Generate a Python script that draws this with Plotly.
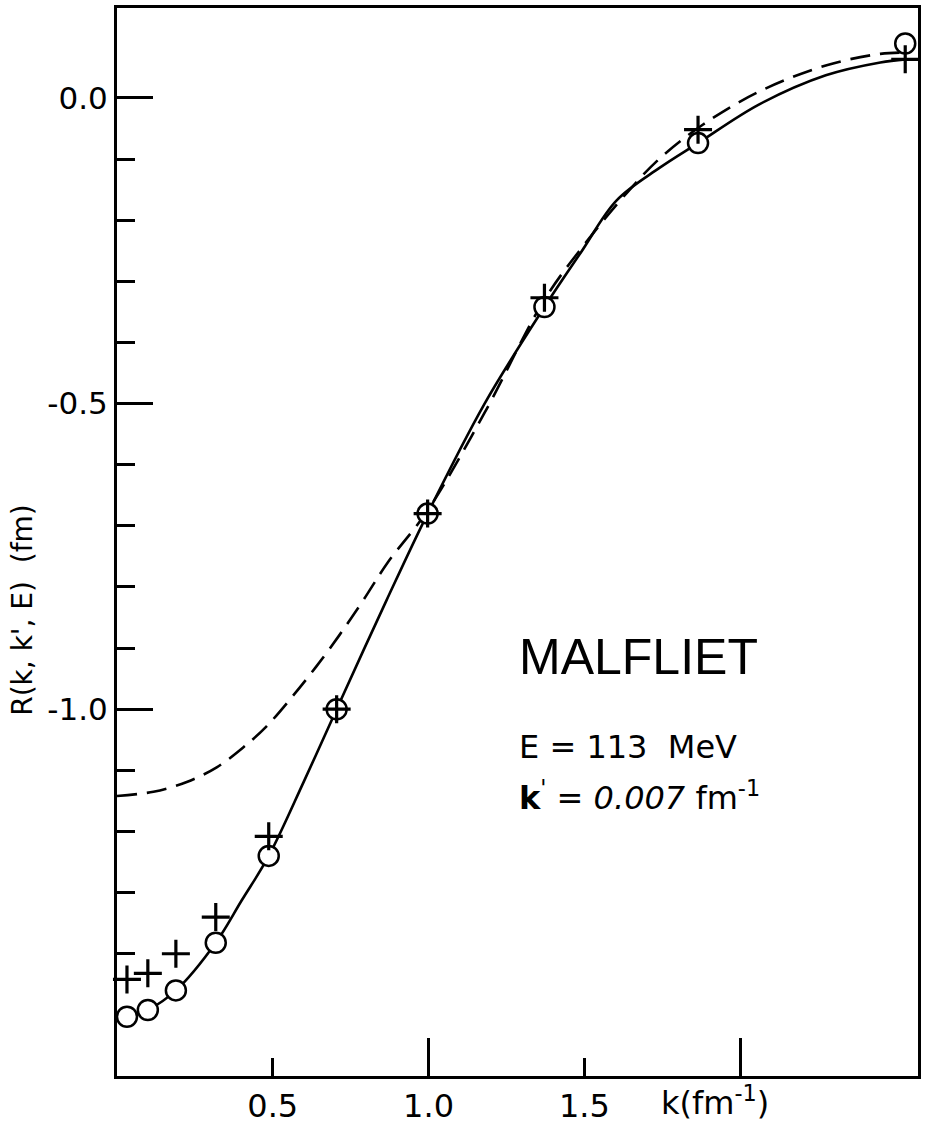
import plotly.graph_objects as go

# Sample momenta (fm^-1) and the two sets of computed R(k, k', E) values
k_pts = [0.032, 0.099, 0.189, 0.317, 0.487, 0.705, 0.997, 1.372, 1.865, 2.53]
r_circle = [-1.503, -1.492, -1.460, -1.382, -1.240, -1.000, -0.680, -0.342, -0.074, 0.089]
r_plus = [-1.442, -1.432, -1.400, -1.340, -1.208, -1.000, -0.680, -0.327, -0.052, 0.063]

# Solid curve
k_solid = [0.032, 0.099, 0.189, 0.317, 0.40, 0.487, 0.60, 0.705, 0.865, 0.997,
           1.18, 1.372, 1.49, 1.603, 1.74, 1.865, 2.06, 2.275, 2.45, 2.53]
r_solid = [-1.503, -1.492, -1.460, -1.382, -1.313, -1.240, -1.118, -1.000, -0.822, -0.680,
           -0.500, -0.342, -0.252, -0.168, -0.115, -0.074, -0.011, 0.037, 0.058, 0.063]

# Dashed curve
k_dash = [0.0, 0.117, 0.224, 0.32, 0.404, 0.48, 0.565, 0.64, 0.715, 0.79, 0.869, 0.997,
          1.18, 1.372, 1.50, 1.62, 1.74, 1.88, 2.06, 2.275, 2.45, 2.53]
r_dash = [-1.142, -1.135, -1.119, -1.095, -1.063, -1.028, -0.978, -0.930, -0.878, -0.822, -0.760,
          -0.675, -0.515, -0.330, -0.240, -0.165, -0.100, -0.044, 0.010, 0.053, 0.072, 0.074]

# Axis ticks
y_major = [0.0, -0.5, -1.0]
y_major_text = ["0.0", "-0.5", "-1.0"]
y_minor = [-0.1, -0.2, -0.3, -0.4, -0.6, -0.7, -0.8, -0.9, -1.1, -1.2, -1.3, -1.4]
x_labelled = [0.5, 1.0, 1.5]
x_labelled_text = ["0.5", "1.0", "1.5"]
x_long = [1.0, 2.0]

X_RANGE = [0, 2.571]
Y_RANGE = [-1.60, 0.147]

INK = "black"
TICK_FONT = dict(family="DejaVu Sans", size=32, color=INK)

fig = go.Figure()

fig.add_trace(go.Scatter(
    x=k_dash, y=r_dash, mode="lines", line=dict(color=INK, width=2.6, dash="20px,10px", shape="spline"),
    showlegend=False, hoverinfo="skip"))
fig.add_trace(go.Scatter(
    x=k_solid, y=r_solid, mode="lines", line=dict(color=INK, width=2.6, shape="spline"),
    showlegend=False, hoverinfo="skip"))

# Markers live on the overlay axis so they sit on top of both curves
fig.add_trace(go.Scatter(
    x=k_pts, y=r_circle, mode="markers", xaxis="x2",
    marker=dict(symbol="circle", size=20, color="white", line=dict(color=INK, width=2.5)),
    cliponaxis=False, showlegend=False, hoverinfo="skip"))
fig.add_trace(go.Scatter(
    x=k_pts, y=r_plus, mode="markers", xaxis="x2",
    marker=dict(symbol="cross-thin", size=20, line=dict(color=INK, width=3.2)),
    cliponaxis=False, showlegend=False, hoverinfo="skip"))

fig.update_layout(
    width=926, height=1130,
    margin=dict(l=117, r=7, t=5, b=41),
    paper_bgcolor="white", plot_bgcolor="white",
    xaxis=dict(
        range=X_RANGE, showgrid=False, zeroline=False,
        showline=True, linecolor=INK, linewidth=3, mirror=True,
        tickmode="array", tickvals=x_labelled, ticktext=x_labelled_text,
        ticks="inside", ticklen=18, tickwidth=3, tickcolor=INK,
        tickfont=TICK_FONT,
    ),
    xaxis2=dict(
        range=X_RANGE, overlaying="x", side="bottom", showgrid=False, zeroline=False,
        showline=False, showticklabels=False,
        tickmode="array", tickvals=x_long,
        ticks="inside", ticklen=38, tickwidth=3, tickcolor=INK,
    ),
    yaxis=dict(
        range=Y_RANGE, showgrid=False, zeroline=False,
        showline=True, linecolor=INK, linewidth=3, mirror=True,
        tickmode="array", tickvals=y_major, ticktext=y_major_text,
        ticks="inside", ticklen=36, tickwidth=3, tickcolor=INK,
        tickfont=dict(family="DejaVu Sans", size=31, color=INK),
        minor=dict(tickmode="array", tickvals=y_minor, ticks="inside",
                   ticklen=18, tickwidth=3, tickcolor=INK),
    ),
)

annotations = [
    dict(text="R(k, k', E)  (fm)", x=-0.118, y=0.437, textangle=-90,
         font=dict(family="DejaVu Sans", size=28, color=INK)),
    dict(text="k(fm<sup>-1</sup>)", x=0.747, y=-0.023,
         font=dict(family="DejaVu Sans", size=32, color=INK)),
    dict(text="MALFLIET", x=0.4988, y=0.392, xanchor="left",
         font=dict(family="Liberation Sans", size=50, color=INK)),
    dict(text="E = 113  MeV", x=0.4988, y=0.308, xanchor="left",
         font=dict(family="DejaVu Sans", size=32, color=INK)),
    dict(text="<b>k</b><sup>'</sup> = <i>0.007</i> fm<sup>-1</sup>", x=0.4988, y=0.262, xanchor="left",
         font=dict(family="DejaVu Sans", size=32, color=INK)),
]
for a in annotations:
    a.setdefault("xanchor", "center")
    fig.add_annotation(xref="paper", yref="paper", yanchor="middle", showarrow=False, **a)

fig.write_html("out.html")
